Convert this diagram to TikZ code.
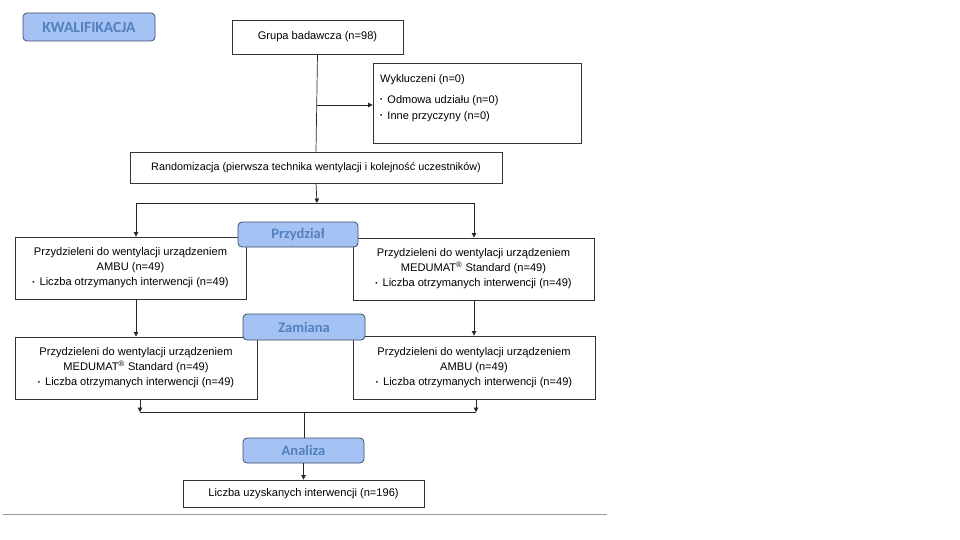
\documentclass[tikz,border=0pt]{standalone}
\usepackage{fontspec}
\setmainfont{Liberation Sans}
\newfontfamily\labfont{Carlito}
\usetikzlibrary{arrows.meta}
\definecolor{labfill}{RGB}{164,194,244}
\definecolor{labtext}{RGB}{84,128,190}
\definecolor{labborder}{RGB}{62,76,104}
\newcommand\bul{\raisebox{1.2pt}{\fontsize{6.5}{6.5}\selectfont •}}
\begin{document}
\begin{tikzpicture}[x=1pt,y=-1pt,
  box/.style={draw=black!80, line width=0.8pt, fill=white, inner sep=0pt, align=center,
    font=\fontsize{11.1}{15}\selectfont},
  lab/.style={draw=labborder, fill=labfill, rounded corners=4pt, line width=0.8pt,
    font=\labfont\bfseries\fontsize{14.5}{16}\selectfont, text=labtext, inner sep=0pt},
  conn/.style={draw=black!85, line width=0.7pt},
  arr/.style={conn, -{Triangle[length=4.5pt,width=4.5pt]}}]
\useasboundingbox (0,0) rectangle (960,540);

% boxes
\node[box, minimum width=171pt, minimum height=34pt] (grupa) at (317.5,37) {Grupa badawcza (n=98)};
\node[box, minimum width=208pt, minimum height=80pt] (wyk) at (477,103) {};
\node[align=left, anchor=north west, inner sep=0pt, font=\fontsize{11}{16}\selectfont] (wyktext) at (380,74)
  {Wykluczeni (n=0)\\[5pt]
   \bul\hspace{5pt}Odmowa udziału (n=0)\\
   \bul\hspace{5pt}Inne przyczyny (n=0)};
\node[box, minimum width=372pt, minimum height=31pt, font=\fontsize{10.8}{12}\selectfont] (rand) at (316,167.5)
  {Randomizacja (pierwsza technika wentylacji i kolejność uczestników)};
\node[box, minimum width=231pt, minimum height=62pt] (l1) at (130.5,268)
  {Przydzieleni do wentylacji urządzeniem\\AMBU (n=49)\\\bul\hspace{5pt}Liczba otrzymanych interwencji (n=49)};
\node[box, minimum width=241pt, minimum height=62pt] (r1) at (473.5,269)
  {Przydzieleni do wentylacji urządzeniem\\MEDUMAT\textsuperscript{®} Standard (n=49)\\\bul\hspace{5pt}Liczba otrzymanych interwencji (n=49)};
\node[box, minimum width=242pt, minimum height=62pt] (l2) at (136,368)
  {Przydzieleni do wentylacji urządzeniem\\MEDUMAT\textsuperscript{®} Standard (n=49)\\\bul\hspace{5pt}Liczba otrzymanych interwencji (n=49)};
\node[box, minimum width=242pt, minimum height=63pt] (r2) at (474,367.5)
  {Przydzieleni do wentylacji urządzeniem\\AMBU (n=49)\\\bul\hspace{5pt}Liczba otrzymanych interwencji (n=49)};
\node[box, minimum width=241pt, minimum height=27pt] (fin) at (303.5,493.5)
  {Liczba uzyskanych interwencji (n=196)};

% junction points
\coordinate (j1) at (317,105);
\coordinate (j2) at (317,203);
\coordinate (jl) at (136,203);
\coordinate (jr) at (474,203);
\coordinate (kl) at (140,412);
\coordinate (kr) at (476,412);
\coordinate (km) at (304,412);

% connectors
\draw[conn] (grupa.south) -- (rand.north);
\draw[arr] (j1) -- (wyk.west |- j1);
\draw[arr] (rand.south) -- (j2);
\draw[conn] (jl) -- (jr);
\draw[arr] (jl) -- (jl |- l1.north);
\draw[arr] (jr) -- (jr |- r1.north);
\draw[arr] (jl |- l1.south) -- (jl |- l2.north);
\draw[arr] (jr |- r1.south) -- (jr |- r2.north);
\draw[arr] (kl |- l2.south) -- (kl);
\draw[arr] (kr |- r2.south) -- (kr);
\draw[conn] (kl) -- (kr);

% labels
\node[lab, minimum width=132pt, minimum height=28pt, font=\labfont\bfseries\fontsize{15.5}{17}\selectfont] (kwal) at (89,27) {KWALIFIKACJA};
\node[lab, minimum width=120pt, minimum height=25pt] (przy) at (298,234.5) {Przydział};
\node[lab, minimum width=122pt, minimum height=26pt] (zam) at (304,327) {Zamiana};
\node[lab, minimum width=121pt, minimum height=25pt] (ana) at (303.5,450.5) {Analiza};

\draw[conn] (km) -- (km |- ana.north);
\draw[arr] (ana.south) -- (fin.north);

% separator
\draw[black!40, line width=0.8pt] (3,514.5) -- (607,514.5);
\end{tikzpicture}
\end{document}
